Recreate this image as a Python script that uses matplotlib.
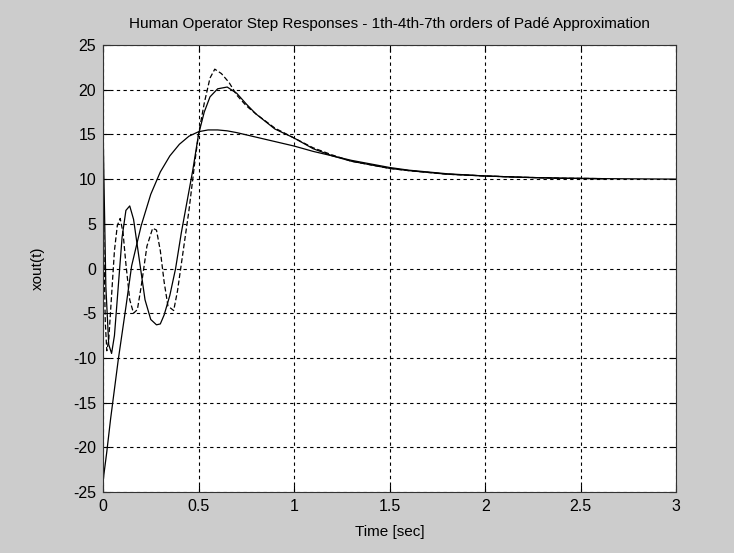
import matplotlib
matplotlib.use("Agg")
import matplotlib.pyplot as plt

# 1st-order Padé response
t1 = [0, 0.005, 0.02, 0.04, 0.08, 0.12, 0.15, 0.2, 0.25, 0.3, 0.35, 0.4, 0.45,
      0.5, 0.55, 0.6, 0.65, 0.7, 0.8, 0.9, 1.0, 1.1, 1.2, 1.3, 1.4, 1.5, 1.6,
      1.8, 2.0, 2.2, 2.4, 2.63, 3.0]
y1 = [-24, -23, -20.5, -16.8, -10.2, -4.3, 0.3, 4.8, 8.3, 10.8, 12.6, 13.9, 14.8,
      15.3, 15.5, 15.5, 15.4, 15.2, 14.7, 14.2, 13.7, 13.1, 12.6, 12.1, 11.7, 11.3, 11.0,
      10.6, 10.35, 10.2, 10.1, 10.05, 10.0]

# 4th-order Padé response
t4 = [0, 0.005, 0.015, 0.03, 0.045, 0.06, 0.08, 0.10, 0.12, 0.14, 0.16, 0.18, 0.20,
      0.22, 0.25, 0.28, 0.30, 0.32, 0.35, 0.38, 0.41, 0.44, 0.47, 0.50, 0.53, 0.56,
      0.60, 0.65, 0.70, 0.75, 0.8, 0.9, 1.0, 1.1, 1.2, 1.3, 1.4, 1.5, 1.6, 1.8, 2.0,
      2.2, 2.4, 2.63]
y4 = [16.6, 10, -2, -8.5, -9.5, -7.5, -2, 3.5, 6.5, 7.0, 5.5, 2.5, -0.5,
      -3.5, -5.7, -6.3, -6.2, -5.2, -3, 0, 4, 7.5, 11, 15, 17.5, 19.2,
      20.1, 20.3, 19.6, 18.4, 17.3, 15.6, 14.6, 13.4, 12.6, 12.0, 11.6, 11.2, 10.95, 10.55, 10.35,
      10.2, 10.1, 10.05]

# 7th-order Padé response
t7 = [0, 0.005, 0.012, 0.02, 0.03, 0.045, 0.06, 0.075, 0.09, 0.105, 0.12, 0.14, 0.16,
      0.18, 0.20, 0.23, 0.26, 0.28, 0.30, 0.32, 0.34, 0.37, 0.39, 0.42, 0.45, 0.48,
      0.50, 0.53, 0.56, 0.585, 0.62, 0.66, 0.70, 0.75, 0.8, 0.9, 1.0, 1.1, 1.2, 1.3,
      1.4, 1.5, 1.6, 1.8, 2.0, 2.2, 2.4, 2.63]
y7 = [10.5, 2, -6, -9.2, -8.0, -3, 2, 4.8, 5.6, 4, 0.5, -3.5, -5.0,
      -4.6, -2, 2.5, 4.5, 4.3, 2, -1.5, -4.2, -4.7, -2.5, 2, 6.5, 11.8,
      15, 18.5, 21.3, 22.3, 21.8, 20.8, 19.4, 18.2, 17.3, 15.7, 14.6, 13.5, 12.7, 12.0,
      11.6, 11.2, 10.95, 10.55, 10.35, 10.2, 10.1, 10.05]

xticks = [0, 0.5, 1, 1.5, 2, 2.5, 3]
xtick_labels = ["0", "0.5", "1", "1.5", "2", "2.5", "3"]
yticks = [-25, -20, -15, -10, -5, 0, 5, 10, 15, 20, 25]

plt.rcParams['font.family'] = ['Liberation Sans', 'DejaVu Sans']
plt.rcParams['axes.unicode_minus'] = False

fig = plt.figure(figsize=(7.34, 5.53), dpi=100, facecolor='#cccccc')
ax = fig.add_axes([0.1403, 0.1103, 0.781, 0.8083])
ax.set_facecolor('white')

ax.plot(t1, y1, color='black', lw=0.9, ls='-')
ax.plot(t4, y4, color='black', lw=0.9, ls='-')
ax.plot(t7, y7, color='black', lw=0.9, ls=(0, (4, 2)))

ax.set_xlim(0, 3)
ax.set_ylim(-25, 25)
ax.set_xticks(xticks)
ax.set_xticklabels(xtick_labels)
ax.set_yticks(yticks)
ax.grid(True, color='black', ls=(0, (3, 3)), lw=0.8)
ax.tick_params(direction='in', top=True, right=True, labelsize=11.5, length=5, width=0.8, pad=5)
for s in ax.spines.values():
    s.set_linewidth(0.8)
    s.set_color('#333333')

ax.set_title('Human Operator Step Responses - 1th-4th-7th orders of Padé Approximation',
             fontsize=11, pad=12)
ax.set_xlabel('Time [sec]', fontsize=11, labelpad=8)
ax.set_ylabel('xout(t)', fontsize=11, labelpad=20)

fig.savefig('out.png', dpi=100, facecolor=fig.get_facecolor())
